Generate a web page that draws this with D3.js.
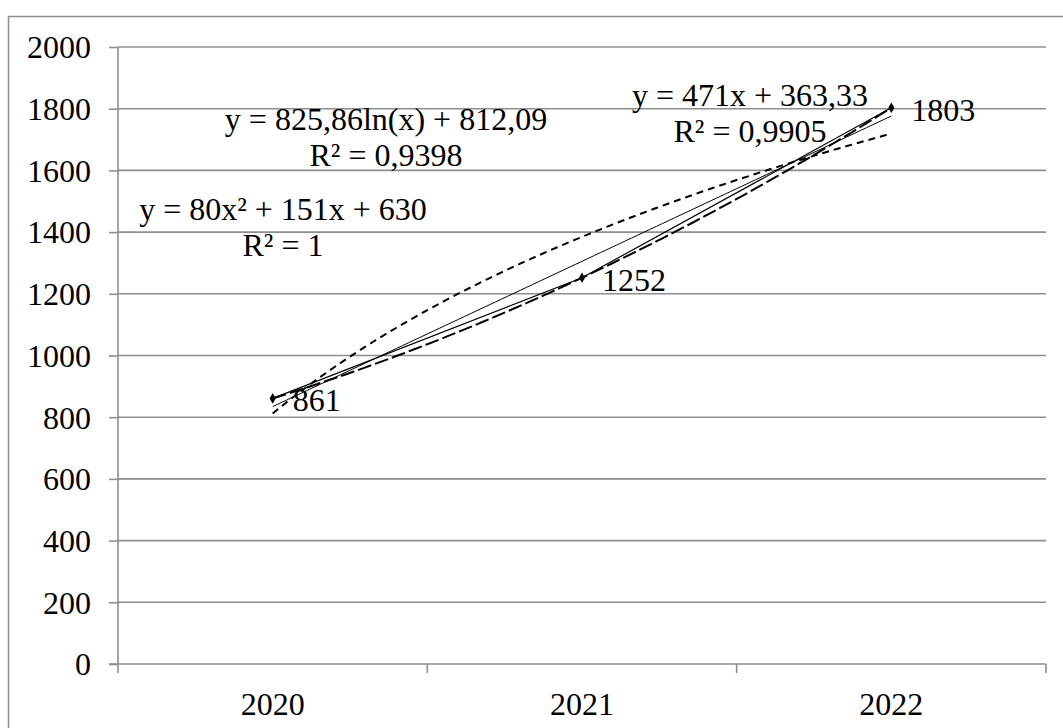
<!DOCTYPE html>
<html>
<head>
<meta charset="utf-8">
<script src="https://cdn.jsdelivr.net/npm/d3@7"></script>
<style>
  html, body { margin: 0; padding: 0; background: #fff; }
  svg { display: block; }
  text { font-family: "Liberation Serif", "Times New Roman", serif; fill: #000; }
</style>
</head>
<body>
<svg id="chart" width="1063" height="728"></svg>
<script>
// Yearly values
const years = ["2020", "2021", "2022"];
const values = [861, 1252, 1803];
const yTicks = [0, 200, 400, 600, 800, 1000, 1200, 1400, 1600, 1800, 2000];

// Trendline coefficients (x = 1, 2, 3 for the three years)
const linearCoef = [471, 363.33];          // y = a*x + b
const logCoef = [825.86, 812.09];          // y = a*ln(x) + b
const polyCoef = [80, 151, 630];           // y = a*x^2 + b*x + c

// Equation labels
const linearLabel = ["y = 471x + 363,33", "R² = 0,9905"];
const logLabel = ["y = 825,86ln(x) + 812,09", "R² = 0,9398"];
const polyLabel = ["y = 80x² + 151x + 630", "R² = 1"];

const svg = d3.select("#chart");
const plotLeft = 118, plotRight = 1046, plotTop = 47, plotBottom = 664;

// Outer chart frame
svg.append("rect")
  .attr("x", 8.5).attr("y", 16.5)
  .attr("width", 1100).attr("height", 800)
  .attr("fill", "none").attr("stroke", "#8c8c8c").attr("stroke-width", 1.5);

const x = d3.scaleBand().domain(years).range([plotLeft, plotRight]).padding(0);
const y = d3.scaleLinear().domain([0, 2000]).range([plotBottom, plotTop]);
// continuous position for the trendline variable (1..3)
const xt = d3.scaleLinear().domain([1, years.length])
  .range([x(years[0]) + x.bandwidth() / 2, x(years[years.length - 1]) + x.bandwidth() / 2]);

const gridColor = "#8e8e8e";

// Horizontal gridlines
svg.append("g").selectAll("line").data(yTicks.filter(d => d > 0)).join("line")
  .attr("x1", plotLeft).attr("x2", plotRight)
  .attr("y1", d => y(d)).attr("y2", d => y(d))
  .attr("stroke", gridColor).attr("stroke-width", 1.6);

// Y axis
const yAxis = svg.append("g").attr("transform", `translate(${plotLeft},0)`)
  .call(d3.axisLeft(y).tickValues(yTicks).tickSize(9).tickPadding(18).tickFormat(d3.format("d")));
yAxis.select(".domain").attr("stroke", gridColor).attr("stroke-width", 1.6).attr("d", `M0,${plotTop}V${plotBottom}`);
yAxis.selectAll(".tick line").attr("stroke", gridColor).attr("stroke-width", 1.6);
yAxis.selectAll(".tick text").attr("font-size", 32).attr("font-family", "Liberation Serif").attr("dy", "0.34em");

// X axis
const xAxis = svg.append("g").attr("transform", `translate(0,${plotBottom})`)
  .call(d3.axisBottom(x).tickSize(0).tickPadding(0));
xAxis.select(".domain").attr("stroke", gridColor).attr("stroke-width", 1.6).attr("d", `M${plotLeft - 9},0H${plotRight}`);
xAxis.selectAll(".tick text").attr("font-size", 32).attr("font-family", "Liberation Serif").attr("dy", 0).attr("y", 51);
// Category boundary tick marks
const bounds = years.map(d => x(d)).concat([x(years[years.length - 1]) + x.bandwidth()]);
xAxis.append("g").selectAll("line").data(bounds).join("line")
  .attr("x1", d => d).attr("x2", d => d).attr("y1", 0).attr("y2", 9)
  .attr("stroke", gridColor).attr("stroke-width", 1.6);

// Trendline samples
const ts = d3.range(1, 3.0001, 0.02);
const trend = f => d3.line().x(t => xt(t)).y(t => y(f(t)))(ts);

// Logarithmic trendline (short dash)
svg.append("path")
  .attr("d", trend(t => logCoef[0] * Math.log(t) + logCoef[1]))
  .attr("fill", "none").attr("stroke", "#000").attr("stroke-width", 2)
  .attr("stroke-dasharray", "7,5");

// Linear trendline (thin solid)
svg.append("path")
  .attr("d", trend(t => linearCoef[0] * t + linearCoef[1]))
  .attr("fill", "none").attr("stroke", "#000").attr("stroke-width", 1);

// Data series
svg.append("path")
  .attr("d", d3.line().x((d, i) => x(years[i]) + x.bandwidth() / 2).y(d => y(d))(values))
  .attr("fill", "none").attr("stroke", "#000").attr("stroke-width", 1.2);

// Polynomial trendline (long dash)
svg.append("path")
  .attr("d", trend(t => polyCoef[0] * t * t + polyCoef[1] * t + polyCoef[2]))
  .attr("fill", "none").attr("stroke", "#000").attr("stroke-width", 2)
  .attr("stroke-dasharray", "14,4");

// Markers
svg.append("g").selectAll("path").data(values).join("path")
  .attr("transform", (d, i) => `translate(${x(years[i]) + x.bandwidth() / 2},${y(d)})`)
  .attr("d", d3.symbol(d3.symbolDiamond, 32))
  .attr("fill", "#000");

// Data labels
svg.append("g").selectAll("text").data(values).join("text")
  .attr("x", (d, i) => x(years[i]) + x.bandwidth() / 2 + 20)
  .attr("y", d => y(d) + 13)
  .attr("font-size", 32)
  .text(d => d);

// Trendline equations
function eqLabel(lines, cx, baseline) {
  svg.append("g").selectAll("text").data(lines).join("text")
    .attr("x", cx).attr("y", (d, i) => baseline + i * 36)
    .attr("text-anchor", "middle").attr("font-size", 32)
    .text(d => d);
}
eqLabel(logLabel, 386, 130);
eqLabel(polyLabel, 283, 220);
eqLabel(linearLabel, 750, 106);
</script>
</body>
</html>
